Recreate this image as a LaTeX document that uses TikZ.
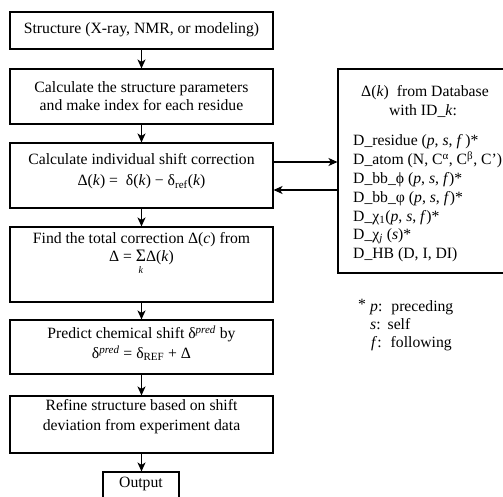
\documentclass[tikz,border=0pt]{standalone}
\usepackage{fontspec}
\setmainfont{Liberation Serif}
\usetikzlibrary{arrows.meta}
\begin{document}
\begin{tikzpicture}[x=1pt,y=-1pt,
  box/.style={draw, line width=1.1pt, minimum width=263pt, inner sep=0pt},
  txt/.style={font=\fontsize{15.7}{18}\selectfont, align=center, inner sep=0pt},
  lst/.style={font=\fontsize{15.7}{18}\selectfont, anchor=west, inner sep=0pt, text height=11pt, text depth=4pt},
  arr/.style={line width=1.2pt, -{Stealth[length=9pt,width=8pt,inset=2.5pt]}}]
\useasboundingbox (0,0) rectangle (503,497);
% left column boxes
\node[box, minimum height=37pt] (b1) at (141.5,30.5) {};
\node[box, minimum height=55pt] (b2) at (141.5,96.5) {};
\node[box, minimum height=65pt] (b3) at (141.5,175.5) {};
\node[box, minimum height=75pt] (b4) at (141.5,264.5) {};
\node[box, minimum height=54pt] (b5) at (141.5,347) {};
\node[box, minimum height=57pt] (b6) at (141.5,424.5) {};
\node[box, minimum width=76pt, minimum height=40pt] (out) at (141,492) {};
% database box
\node[draw, line width=1.1pt, minimum width=170pt, minimum height=204pt, inner sep=0pt] (db) at (423,171) {};
% texts
\node[txt] (t1) at (141.5,30) {Structure (X-ray, NMR, or modeling)};
\node[txt] (t2) at (141.5,96) {Calculate the structure parameters\\and make index for each residue};
\node[txt] (t3) at (141.5,171) {Calculate individual shift correction\\[3pt]Δ(\textit{k}) =\ \ δ(\textit{k}) − δ\textsubscript{ref}(\textit{k})};
\node[txt, anchor=north] (t4) at (141.5,232) {Find the total correction Δ(\textit{c}) from\\Δ = \begin{tabular}[t]{@{}c@{}}{\fontsize{17.5}{18}\selectfont Σ}\\[-6pt]{\fontsize{10}{10}\selectfont\textit{k}}\end{tabular}Δ(\textit{k})};
\node[txt] (t5) at (141.5,343) {Predict chemical shift δ\textsuperscript{\textit{pred}} by\\[2pt]δ\textsuperscript{\textit{pred}} = δ\textsubscript{REF} + Δ};
\node[txt] (t6) at (141.5,417) {Refine structure based on shift\\[2pt]deviation from experiment data};
\node[txt] (t7) at (141,484) {Output};
% database text
\node[txt] (d0) at (425,93) {Δ(\textit{k})\ \ from Database};
\node[txt] (d1) at (423,111) {with ID\_\textit{k}:};
\node[lst] (l1) at (353,142) {D\_residue (\textit{p}, \textit{s}, \textit{f}\,)*};
\node[lst] (l2) at (353,161) {D\_atom (N, C\textsuperscript{α}, C\textsuperscript{β}, C')};
\node[lst] (l3) at (353,180) {D\_bb\_ϕ (\textit{p}, \textit{s}, \textit{f})*};
\node[lst] (l4) at (353,199) {D\_bb\_φ (\textit{p}, \textit{s}, \textit{f})*};
\node[lst] (l5) at (353,218) {D\_χ\textsubscript{1}(\textit{p}, \textit{s}, \textit{f})*};
\node[lst] (l6) at (353,236) {D\_χ\textsubscript{\textit{j}} (\textit{s})*};
\node[lst] (l7) at (353,255) {D\_HB (D, I, DI)};
% footnote
\node[lst] (f0) at (358,306) {*};
\node[lst] (f1) at (370,308) {\textit{p}:\hspace{9pt}preceding};
\node[lst] (f2) at (370,326) {\textit{s}:\hspace{7pt}self};
\node[lst] (f3) at (371,344) {\textit{f}:\hspace{9pt}following};
% arrows
\draw[arr] (b1.south) -- (b2.north);
\draw[arr] (b2.south) -- (b3.north);
\draw[arr] (b3.south) -- (b4.north);
\draw[arr] (b4.south) -- (b5.north);
\draw[arr] (b5.south) -- (b6.north);
\draw[arr] (b6.south) -- (b6.south |- out.north);
\draw[arr] (b3.east |- 0,162) -- (db.west |- 0,162);
\draw[arr] (db.west |- 0,190) -- (b3.east |- 0,190);
\end{tikzpicture}
\end{document}
